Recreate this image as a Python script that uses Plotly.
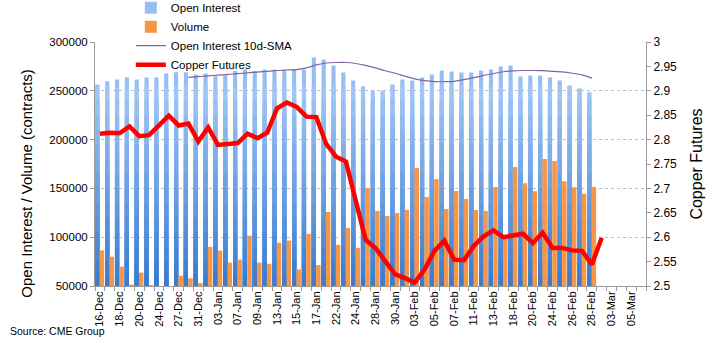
import plotly.graph_objects as go

dates = ["16-Dec", "17-Dec", "18-Dec", "19-Dec", "20-Dec", "23-Dec", "24-Dec", "26-Dec",
         "27-Dec", "30-Dec", "31-Dec", "02-Jan", "03-Jan", "06-Jan", "07-Jan", "08-Jan",
         "09-Jan", "10-Jan", "13-Jan", "14-Jan", "15-Jan", "16-Jan", "17-Jan", "21-Jan",
         "22-Jan", "23-Jan", "24-Jan", "27-Jan", "28-Jan", "29-Jan", "30-Jan", "31-Jan",
         "03-Feb", "04-Feb", "05-Feb", "06-Feb", "07-Feb", "10-Feb", "11-Feb", "12-Feb",
         "13-Feb", "14-Feb", "18-Feb", "19-Feb", "20-Feb", "21-Feb", "24-Feb", "25-Feb",
         "26-Feb", "27-Feb", "28-Feb", "02-Mar", "03-Mar", "04-Mar", "05-Mar", "06-Mar"]

open_interest = [256500, 259900, 261600, 263600, 261600, 263600, 263600, 267700, 269000, 269000,
                 266700, 267700, 265000, 266000, 270400, 271800, 270400, 271800, 271800, 271800,
                 271800, 271800, 284000, 282000, 275900, 268700, 260600, 254400, 250000, 250000,
                 256500, 261600, 260600, 263600, 266700, 270800, 269700, 268700, 268700, 270800,
                 271800, 274800, 275900, 264600, 265700, 265700, 263600, 260600, 255500, 252400,
                 248300]

volume = [86500, 80000, 69800, 51500, 63700, 51000, 30000, 25000, 60600, 57900,
          53000, 90000, 86300, 73900, 77000, 101500, 73900, 72800, 94300, 96600,
          67000, 103400, 71500, 125800, 92200, 109500, 89000, 150400, 126900, 121700,
          124800, 127900, 170900, 141200, 159500, 128900, 147300, 139100, 127900, 126800,
          151400, 100000, 171800, 155300, 147200, 180000, 178000, 157300, 151300, 144500,
          151400]

sma_first_index = 9
oi_sma10 = [263800, 264500, 265300, 266000, 266800, 267600, 268400, 269200, 270000, 270800,
            271300, 271700, 273500, 276500, 278500, 279000, 279000, 278000, 276000, 273500,
            270500, 268000, 265000, 262300, 260500, 259500, 259300, 259700, 261500, 263500,
            265800, 267700, 269500, 270500, 270800, 270800, 270600, 270000, 269300, 268000,
            266300, 263000]

copper = [2.812, 2.814, 2.813, 2.827, 2.807, 2.809, 2.829, 2.849, 2.829, 2.833,
          2.796, 2.825, 2.789, 2.791, 2.793, 2.812, 2.803, 2.814, 2.864, 2.876,
          2.867, 2.847, 2.846, 2.791, 2.765, 2.755, 2.675, 2.595, 2.578, 2.551,
          2.524, 2.516, 2.507, 2.534, 2.572, 2.593, 2.554, 2.553, 2.582, 2.602,
          2.614, 2.600, 2.604, 2.607, 2.588, 2.609, 2.578, 2.578, 2.573, 2.572,
          2.544, 2.599]

pos = list(range(len(dates)))
x_oi = pos[:len(open_interest)]
x_vol = pos[:len(volume)]
x_sma = pos[sma_first_index:sma_first_index + len(oi_sma10)]
x_cu = pos[:len(copper)]

FONT = "Liberation Sans, Arial, sans-serif"

fig = go.Figure()

# Open interest bars with a vertical gradient built from overlaid bands
light = (168, 204, 248)
dark = (58, 122, 205)
band_tops = [None, 255000, 240000, 225000, 210000, 195000, 180000, 165000, 150000,
             135000, 120000, 105000, 90000, 75000, 62000]


def band_color(v):
    f = (v - 50000) / (265000 - 50000)
    f = max(0.0, min(1.0, f))
    c = [round(dark[i] + (light[i] - dark[i]) * f) for i in range(3)]
    return "rgb(%d,%d,%d)" % tuple(c)


for k, t in enumerate(band_tops):
    if t is None:
        ys = open_interest
        col = band_color(230000)
    else:
        ys = [min(v, t) for v in open_interest]
        col = band_color(t - 7500)
    fig.add_trace(go.Bar(
        x=x_oi, y=ys, name="Open Interest", marker=dict(color=col, line=dict(width=0)),
        offset=-0.47, width=0.42, showlegend=(k == 0), legendrank=1,
        hoverinfo="skip" if k else None,
    ))

fig.add_trace(go.Bar(
    x=x_vol, y=volume, name="Volume", marker=dict(color="#F79646", line=dict(width=0)),
    offset=-0.03, width=0.46, legendrank=2,
))

fig.add_trace(go.Scatter(
    x=x_sma, y=oi_sma10, name="Open Interest 10d-SMA", mode="lines",
    line=dict(color="#8064A2", width=1.2, shape="spline", smoothing=0.6), legendrank=3,
))

fig.add_trace(go.Scatter(
    x=x_cu, y=copper, name="Copper Futures", mode="lines", yaxis="y2",
    line=dict(color="#FF0000", width=4.5), legendrank=4,
))

axis_col = "#9A9A9A"

fig.update_layout(
    width=710, height=346,
    margin=dict(l=95, r=64, t=42, b=60, autoexpand=False),
    paper_bgcolor="white", plot_bgcolor="white",
    barmode="overlay",
    font=dict(family=FONT, size=11, color="#000000"),
    showlegend=True,
    legend=dict(x=0.065, y=1.2, xanchor="left", yanchor="top",
                bgcolor="rgba(0,0,0,0)", font=dict(family=FONT, size=11.5),
                tracegroupgap=0, itemwidth=30, traceorder="normal"),
    xaxis=dict(
        range=[-0.5, len(dates) - 0.5],
        tickvals=pos[::2], ticktext=dates[::2], tickangle=-90,
        ticks="", showgrid=False, zeroline=False,
        showline=True, linecolor=axis_col, linewidth=1,
        tickfont=dict(family=FONT, size=11),
        minor=dict(ticks="outside", ticklen=4, tick0=-0.5, dtick=1,
                   tickcolor=axis_col, showgrid=False),
    ),
    yaxis=dict(
        range=[50000, 300000], dtick=50000, tickformat="d",
        showgrid=True, gridcolor="#BFBFBF", griddash="3px,3px", gridwidth=1,
        zeroline=False, showline=True, linecolor=axis_col, linewidth=1,
        ticks="outside", ticklen=4, tickcolor=axis_col,
        tickfont=dict(family=FONT, size=11.5),
    ),
    yaxis2=dict(
        overlaying="y", side="right",
        range=[2.5, 3.0], dtick=0.05, tickformat="~g",
        showgrid=False, zeroline=False,
        showline=True, linecolor=axis_col, linewidth=1,
        ticks="outside", ticklen=4, tickcolor=axis_col,
        tickfont=dict(family=FONT, size=12),
        title=dict(text="Copper Futures", font=dict(family=FONT, size=16), standoff=14),
    ),
    annotations=[
        dict(text="Open Interest / Volume (contracts)", textangle=-90,
             xref="paper", yref="paper", x=-0.125, y=0.42,
             xanchor="center", yanchor="middle", showarrow=False,
             font=dict(family=FONT, size=15, color="#000000")),
        dict(text="Source: CME Group", xref="paper", yref="paper",
             x=-0.158, y=-0.185, xanchor="left", yanchor="middle", showarrow=False,
             font=dict(family=FONT, size=10.5, color="#000000")),
    ],
)

fig.write_html("out.html")
